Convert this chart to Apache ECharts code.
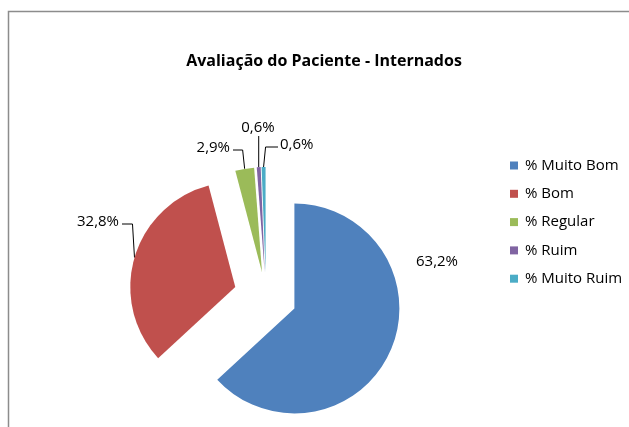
<!DOCTYPE html>
<html>
<head>
<meta charset="utf-8">
<script src="https://cdn.jsdelivr.net/npm/echarts@6/dist/echarts.min.js"></script>
<style>
  html, body { margin: 0; padding: 0; background: #fff; }
  #chart { width: 629px; height: 427px; }
</style>
</head>
<body>
<div id="chart"></div>
<script>
// dados do gráfico
const categorias = ["% Muito Bom", "% Bom", "% Regular", "% Ruim", "% Muito Ruim"];
const valores = [63.2, 32.8, 2.9, 0.6, 0.6];
const cores = ["#4F81BD", "#C0504D", "#9BBB59", "#8064A2", "#4BACC6"];

// posição dos rótulos (estilo "melhor ajuste" do Excel)
const posRotulos = [
  { x: 437, y: 262, align: "center", linha: false },
  { x: 119, y: 222, align: "right", linha: true },
  { x: 230, y: 148, align: "right", linha: true },
  { x: 258, y: 128, align: "center", linha: true },
  { x: 280, y: 145, align: "left", linha: true },
];

const centro = [266, 296];
const raio = 105;
// distância de "explosão" de cada fatia
const explosao = [31, 32, 24, 24, 24];

const myChart = echarts.init(document.getElementById("chart"));

const fmt = (v) => v.toFixed(1).replace(".", ",") + "%";

// cada fatia em sua própria série para poder "explodir" do centro
const total = valores.reduce((a, b) => a + b, 0);
let acumulado = 0;
const series = valores.map((v, i) => {
  const meio = ((acumulado + v / 2) / total) * 2 * Math.PI;
  acumulado += v;
  const cx = centro[0] + explosao[i] * Math.sin(meio);
  const cy = centro[1] - explosao[i] * Math.cos(meio);
  return {
    name: categorias[i],
    type: "pie",
    center: [cx, cy],
    radius: raio,
    startAngle: 90,
    clockwise: true,
    silent: true,
    label: {
      position: "outside",
      fontFamily: "Open Sans",
      fontSize: 15,
      color: "#000",
      formatter: (p) => fmt(p.value),
    },
    labelLine: {
      show: true,
      length: 10,
      length2: 10,
      lineStyle: { color: "#000", width: 1 },
    },
    labelLayout: (params) => {
      if (params.dataIndex !== i) return {};
      const pos = posRotulos[i];
      const p0 = params.labelLinePoints ? params.labelLinePoints[0] : null;
      const out = { x: pos.x, y: pos.y, align: pos.align, verticalAlign: "middle" };
      if (!pos.linha || !p0) return out;
      if (pos.align === "center") {
        out.labelLinePoints = [[p0[0], p0[1]], [p0[0], pos.y + 8]];
      } else if (pos.align === "right") {
        out.labelLinePoints = [[p0[0], p0[1]], [p0[0] - 2, pos.y + 2], [pos.x + 3, pos.y + 2]];
      } else {
        out.labelLinePoints = [[p0[0], p0[1]], [p0[0] + 2, pos.y + 2], [pos.x - 2, pos.y + 2]];
      }
      return out;
    },
    emphasis: { disabled: true },
    data: categorias.map((c, j) => ({
      name: c,
      value: valores[j],
      itemStyle: { color: j === i ? cores[j] : "rgba(0,0,0,0)" },
      label: { show: j === i },
      labelLine: { show: j === i && posRotulos[j].linha },
    })),
  };
});

myChart.setOption({
  animation: false,
  title: {
    text: "Avaliação do Paciente - Internados",
    left: 319,
    top: 48,
    textAlign: "center",
    textStyle: {
      fontFamily: "Open Sans",
      fontSize: 16,
      fontWeight: "bold",
      color: "#000",
    },
  },
  legend: {
    orient: "vertical",
    left: 510,
    top: 158,
    padding: 0,
    itemWidth: 8,
    itemHeight: 8,
    itemGap: 13.3,
    icon: "rect",
    selectedMode: false,
    data: categorias.map((c, i) => ({ name: c, itemStyle: { color: cores[i] } })),
    textStyle: {
      fontFamily: "Open Sans",
      fontSize: 15,
      color: "#000",
      padding: [0, 0, 0, 2],
    },
  },
  graphic: [
    {
      type: "polyline",
      shape: { points: [[8.5, 427], [8.5, 11.5], [629, 11.5]] },
      style: { stroke: "#8c8c8c", lineWidth: 1.5, fill: null },
    },
  ],
  series: series,
});
</script>
</body>
</html>
